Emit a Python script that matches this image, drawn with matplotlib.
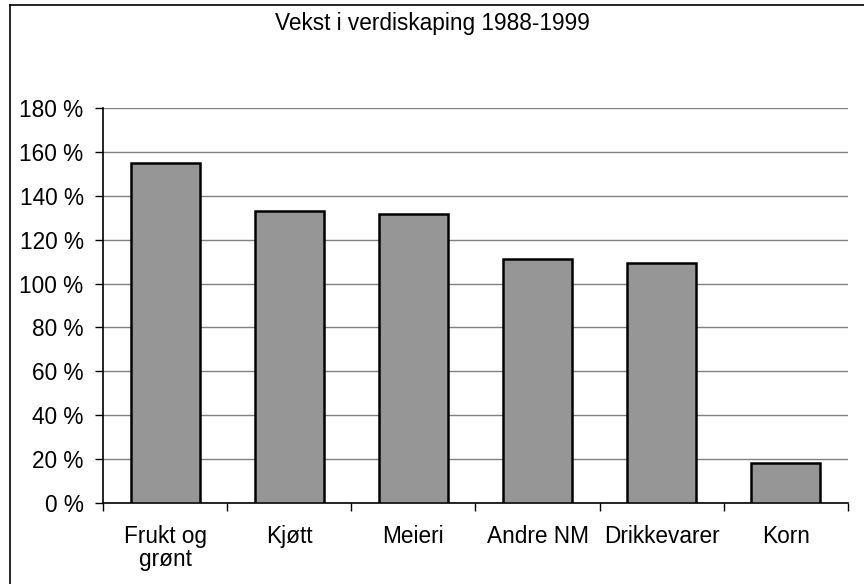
import matplotlib.pyplot as plt
from matplotlib.lines import Line2D
from matplotlib.ticker import FuncFormatter, MultipleLocator
import numpy as np

# Data
categories = ['Frukt og\ngrønt', 'Kjøtt', 'Meieri', 'Andre NM', 'Drikkevarer', 'Korn']
growth = [155, 133, 131.7, 111.2, 109.2, 18.4]

plt.rcParams['font.family'] = ['Liberation Sans', 'DejaVu Sans']

W, H = 864, 584
fig = plt.figure(figsize=(W / 100, H / 100), dpi=100)
ax = fig.add_axes([103 / W, 1 - 503 / H, (848 - 103) / W, (503 - 108) / H])

x = np.arange(len(categories))
ax.bar(x, growth, width=1 / 1.8, color='#969696', edgecolor='black', linewidth=1.8, zorder=3)

ax.set_xlim(-0.5, len(categories) - 0.5)
ax.set_ylim(0, 180)
ax.yaxis.set_major_locator(MultipleLocator(20))
ax.yaxis.set_major_formatter(FuncFormatter(lambda v, p: f'{v:.0f} %'))
ax.grid(axis='y', color='#808080', linewidth=1, zorder=0)

ax.set_xticks(x)
ax.set_xticklabels(categories, fontsize=16.3, linespacing=1.0)
ax.set_xticks(np.arange(len(categories) + 1) - 0.5, minor=True)
ax.tick_params(axis='x', which='major', length=0, pad=16)
ax.tick_params(axis='x', which='minor', length=6, width=1, direction='out')
ax.tick_params(axis='y', labelsize=16.3, length=6, width=1, pad=8)

for s in ['top', 'right']:
    ax.spines[s].set_visible(False)
ax.spines['left'].set_linewidth(1.2)
ax.spines['bottom'].set_linewidth(1.2)

fig.text(432 / W, 1 - 30 / H, 'Vekst i verdiskaping 1988-1999', ha='center', va='baseline', fontsize=16.3)

# Outer chart border (left and top visible)
fig.add_artist(Line2D([10 / W, 10 / W], [0, 1 - 5 / H], color='black', linewidth=1.2))
fig.add_artist(Line2D([10 / W, 1], [1 - 5 / H, 1 - 5 / H], color='black', linewidth=1.2))

fig.savefig('out.png', dpi=100)
